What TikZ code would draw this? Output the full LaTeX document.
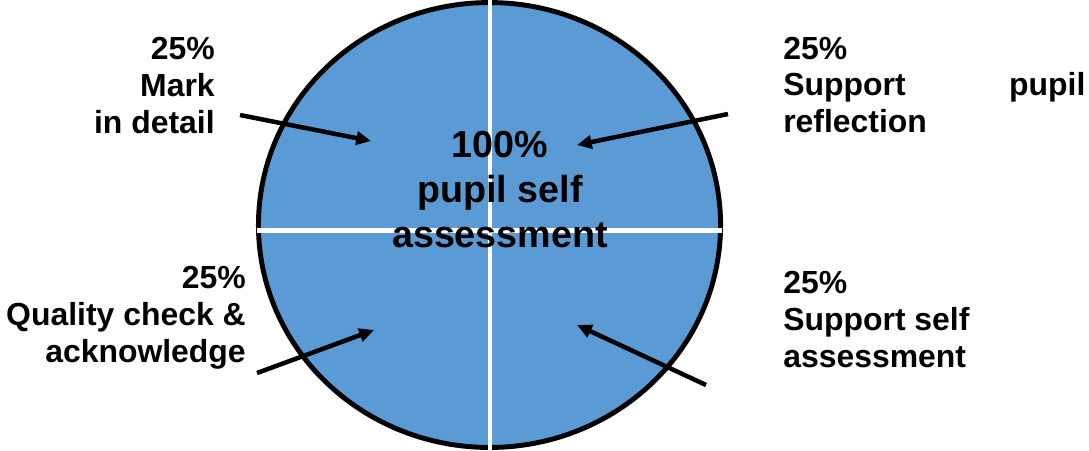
\documentclass[tikz,border=0pt]{standalone}
\usepackage{fontspec}
\setmainfont{Liberation Sans}
\usepackage{xcolor}
\usepackage{tikz}
\usetikzlibrary{shapes.geometric, arrows.meta}
\definecolor{pieblue}{RGB}{91, 155, 213}
\tikzstyle{pie} = [
    ellipse,
    fill=pieblue,
    draw=black,
    line width=3.5pt,
    inner sep=0pt
]
\tikzstyle{divider} = [
    draw=white,
    line width=3.5pt
]
\tikzstyle{sidetext} = [
    inner sep=0pt,
    font=\fontsize{22.7}{26.3}\selectfont\bfseries
]
\tikzstyle{centretext} = [
    inner sep=0pt,
    align=center,
    font=\fontsize{26.8}{31.7}\selectfont\bfseries
]
\tikzstyle{pointer} = [
    line width=3.2pt,
    -{Triangle[length=10.5pt, width=9.5pt]},
    color=black
]

\begin{document}
\begin{tikzpicture}[x=0.025cm, y=-0.025cm]
        \useasboundingbox (0, 0) rectangle (1089, 450);

        % Pie
        \node[pie, minimum width=11.55cm, minimum height=11.12cm] (pie) at (489.5, 225) {};
        \draw[divider] (490, 0) -- (490, 450);
        \draw[divider] (257, 230.5) -- (722, 230.5);

        % Centre (base = last line)
        \node[centretext, anchor=base] (whole) at (500, 247) {100\%\\pupil self\\assessment};

        % Mark in detail
        \node[sidetext, align=right, anchor=base east] (mark) at (215, 133) {25\%\\Mark\\in detail};

        % Support pupil reflection (text width: base = first line)
        \node[sidetext, align=left, text width=7.55cm, anchor=base west] (reflect) at (783, 59) {25\%\\Support \hfill pupil\\reflection};

        % Quality check
        \node[sidetext, align=right, anchor=base east] (quality) at (246, 362) {25\%\\Quality check \&\\acknowledge};

        % Support self assessment
        \node[sidetext, align=left, anchor=base west] (selfassess) at (783, 367) {25\%\\Support self\\assessment};

        % Arrows
        \coordinate (mark-from) at (240, 115);
        \coordinate (mark-to) at (371, 141);
        \coordinate (reflect-from) at (728, 114);
        \coordinate (reflect-to) at (577, 145);
        \coordinate (quality-from) at (257, 373);
        \coordinate (quality-to) at (374, 330);
        \coordinate (selfassess-from) at (706, 385);
        \coordinate (selfassess-to) at (577, 325);
        \draw[pointer] (mark-from) -- (mark-to);
        \draw[pointer] (reflect-from) -- (reflect-to);
        \draw[pointer] (quality-from) -- (quality-to);
        \draw[pointer] (selfassess-from) -- (selfassess-to);
    \end{tikzpicture}
\end{document}
